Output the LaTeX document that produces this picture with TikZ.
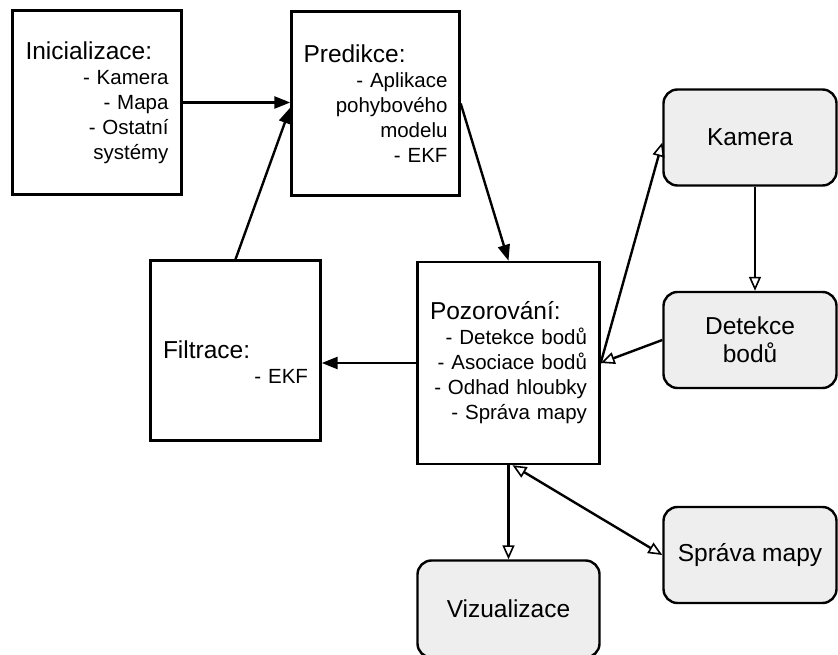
\documentclass[tikz,border=0pt]{standalone}
\usepackage{fontspec}
\setmainfont{Liberation Sans}
\usetikzlibrary{arrows.meta}
\definecolor{boxgray}{HTML}{EEEEEE}
\newcommand\steptitle[1]{\makebox[\linewidth][l]{\fontsize{24.5}{25}\selectfont #1}}

\begin{document}
\begin{tikzpicture}[x=1pt, y=-1pt,
  stepbox/.style={draw, line width=2.4pt, inner sep=0pt, align=right,
    font=\fontsize{20.5}{25}\selectfont},
  unitbox/.style={draw, line width=2.4pt, rounded corners=14pt, fill=boxgray,
    inner sep=0pt, align=center, font=\fontsize{24.5}{28}\selectfont,
    minimum width=173pt, minimum height=96pt},
  flow/.style={line width=2.4pt, -{Triangle[length=16pt, width=12pt]}},
  link/.style={line width=2.4pt, -{Triangle[open, length=14pt, width=12pt, line width=1.6pt]}},
  duallink/.style={line width=2.4pt,
    {Triangle[open, length=14pt, width=12pt, line width=1.6pt]}-{Triangle[open, length=14pt, width=12pt, line width=1.6pt]}}
]
  \useasboundingbox (0,0) rectangle (838,655);
  \clip (0,0) rectangle (838,655);

  \node[stepbox, text width=143pt, minimum width=169pt, minimum height=184pt]
    (init) at (97,102.5)
    {\steptitle{Inicializace:}\\- Kamera\\- Mapa\\- Ostatní\\systémy};
  \node[stepbox, text width=144pt, minimum width=168pt, minimum height=184pt]
    (pred) at (375.5,103.5)
    {\steptitle{Predikce:}\\- Aplikace\\pohybového\\modelu\\- EKF};
  \node[stepbox, text width=145pt, text height=40pt, minimum width=170pt, minimum height=180pt]
    (filt) at (235.5,350.5)
    {\steptitle{Filtrace:}\\- EKF};
  \node[stepbox, text width=157pt, minimum width=182pt, minimum height=202pt]
    (poz) at (508.5,363)
    {\steptitle{Pozorování:}\\- Detekce bodů\\- Asociace bodů\\- Odhad hloubky\\- Správa mapy};

  \node[unitbox] (kam) at (750,137.5) {Kamera};
  \node[unitbox] (det) at (750,340) {Detekce\\bodů};
  \node[unitbox] (sprava) at (750,555) {Správa mapy};
  \node[unitbox, minimum width=182pt, minimum height=97pt] (viz) at (508.5,609) {Vizualizace};

  \draw[flow] (init.east) -- (init.east -| pred.west);
  \draw[flow] (filt.north) -- ([yshift=-4pt]pred.west);
  \draw[flow] (pred.east) -- (poz.north);
  \draw[flow] (poz.west) -- (poz.west -| filt.east);

  \draw[link] (poz.east) -- ([yshift=-5pt]kam.west);
  \draw[link] ([xshift=5pt]kam.south) -- ([xshift=5pt]det.north);
  \draw[link] (det.west) -- (poz.east);
  \draw[link] (poz.south) -- (viz.north);
  \draw[duallink] ([xshift=4pt]poz.south) -- (sprava.west);
\end{tikzpicture}
\end{document}
